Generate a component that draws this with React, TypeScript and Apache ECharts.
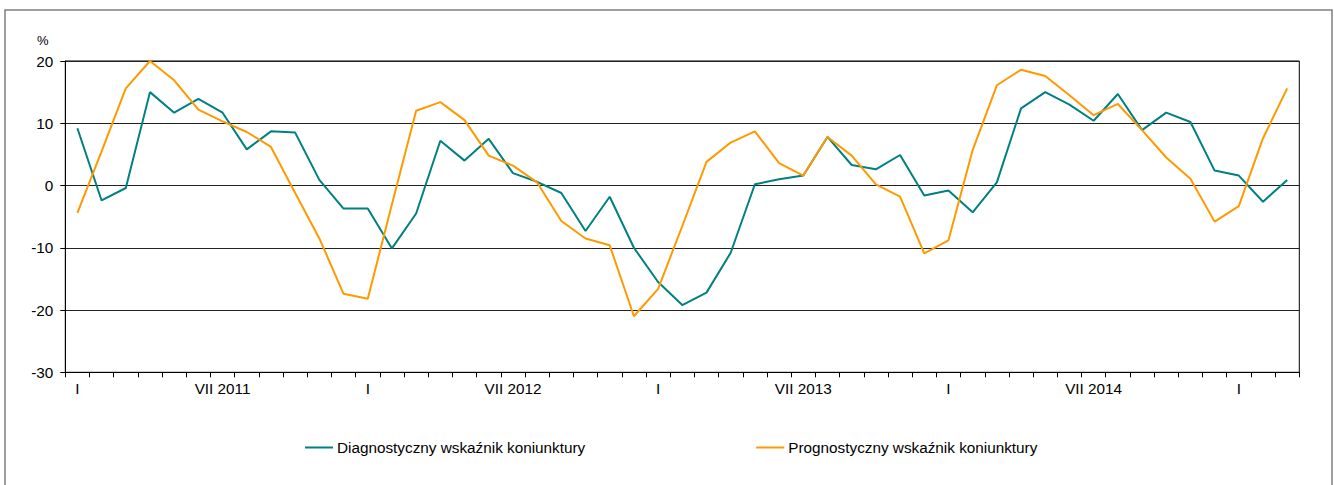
import React, { useEffect, useRef } from "react";
import * as echarts from "echarts";

const romanMonths = ["I", "II", "III", "IV", "V", "VI", "VII", "VIII", "IX", "X", "XI", "XII"];
const startYear = 2011;
const monthCount = 51;
const categories: string[] = Array.from({ length: monthCount }, (_, i) => `${romanMonths[i % 12]} ${startYear + Math.floor(i / 12)}`);

const diagnostic = [
  9.2, -2.4, -0.4, 15.0, 11.7, 13.9, 11.7, 5.8, 8.7, 8.5,
  0.9, -3.7, -3.7, -10.1, -4.5, 7.2, 4.0, 7.5, 2.0, 0.6,
  -1.2, -7.3, -1.8, -10.0, -15.5, -19.2, -17.2, -10.8, 0.2, 1.0,
  1.6, 7.8, 3.3, 2.6, 4.9, -1.6, -0.8, -4.3, 0.5, 12.4,
  15.0, 13.0, 10.4, 14.7, 8.9, 11.7, 10.2, 2.4, 1.6, -2.6, 0.9,
];

const prognostic = [
  -4.4, 5.5, 15.6, 20.0, 16.9, 12.2, 10.3, 8.6, 6.2, -1.2,
  -8.5, -17.4, -18.2, -3.0, 12.0, 13.4, 10.5, 4.8, 3.2, 0.5,
  -5.7, -8.5, -9.6, -21.0, -16.6, -6.5, 3.8, 6.9, 8.7, 3.6,
  1.6, 7.8, 4.8, 0.2, -1.8, -10.9, -8.8, 5.7, 16.1, 18.6,
  17.6, 14.5, 11.3, 13.1, 8.9, 4.5, 1.1, -5.8, -3.3, 7.6, 15.6,
];

const seriesNames = ["Diagnostyczny wskaźnik koniunktury", "Prognostyczny wskaźnik koniunktury"];
const seriesColors = ["#008080", "#FF9900"];
const yTicks = { min: -30, max: 20, interval: 10 };

const FONT = "'Liberation Sans', Arial, sans-serif";

export default function App() {
  const ref = useRef<HTMLDivElement>(null);
  useEffect(() => {
    document.body.style.margin = "0";
    if (!ref.current) return;
    const chart = echarts.init(ref.current, undefined, { renderer: "svg" });
    chart.setOption({
      animation: false,
      backgroundColor: "#fff",
      textStyle: { fontFamily: FONT },
      graphic: [
        {
          type: "rect",
          shape: { x: 5, y: 10, width: 1327, height: 490 },
          style: { fill: "none", stroke: "#7f7f7f", lineWidth: 1.5 },
          silent: true,
          z: -1,
        },
        {
          type: "text",
          x: 37,
          y: 34,
          style: { text: "%", fontSize: 13, fontFamily: FONT, fill: "#000" },
        },
      ],
      grid: {
        left: 65.3,
        right: 34.7,
        top: 61,
        bottom: 112.7,
        show: true,
        borderColor: "#000",
        borderWidth: 1,
        containLabel: false,
      },
      legend: {
        left: 305,
        top: 440,
        padding: 0,
        icon: "rect",
        itemWidth: 28,
        itemHeight: 2,
        itemGap: 171,
        textStyle: { fontSize: 15.3, color: "#000", fontFamily: FONT, padding: [0, 0, 0, -1] },
        data: seriesNames.map((name, i) => ({ name, itemStyle: { color: seriesColors[i] } })),
      },
      xAxis: {
        type: "category",
        data: categories,
        boundaryGap: true,
        axisLine: { onZero: false, lineStyle: { color: "#000", width: 1 } },
        axisTick: { show: true, interval: 0, length: 5, lineStyle: { color: "#000" } },
        axisLabel: {
          interval: (index: number) => index % 6 === 0,
          margin: 9,
          fontSize: 15.3,
          color: "#000",
          fontFamily: FONT,
          formatter: (v: string) => {
            const [m, y] = v.split(" ");
            return m === "I" ? "I" : `${m} ${y}`;
          },
        },
        splitLine: { show: false },
      },
      yAxis: {
        type: "value",
        min: yTicks.min,
        max: yTicks.max,
        interval: yTicks.interval,
        axisLine: { show: true, lineStyle: { color: "#000", width: 1 } },
        axisTick: { show: true, length: 5, lineStyle: { color: "#000" } },
        axisLabel: { margin: 12, fontSize: 15.3, color: "#000", fontFamily: FONT },
        splitLine: { show: true, lineStyle: { color: "#222", width: 1 } },
      },
      series: [
        {
          name: seriesNames[0],
          type: "line",
          data: diagnostic,
          symbol: "none",
          lineStyle: { color: seriesColors[0], width: 2 },
          itemStyle: { color: seriesColors[0] },
        },
        {
          name: seriesNames[1],
          type: "line",
          data: prognostic,
          symbol: "none",
          lineStyle: { color: seriesColors[1], width: 2 },
          itemStyle: { color: seriesColors[1] },
        },
      ],
    });
    return () => chart.dispose();
  }, []);
  return <div ref={ref} style={{ width: 1334, height: 485 }} />;
}
